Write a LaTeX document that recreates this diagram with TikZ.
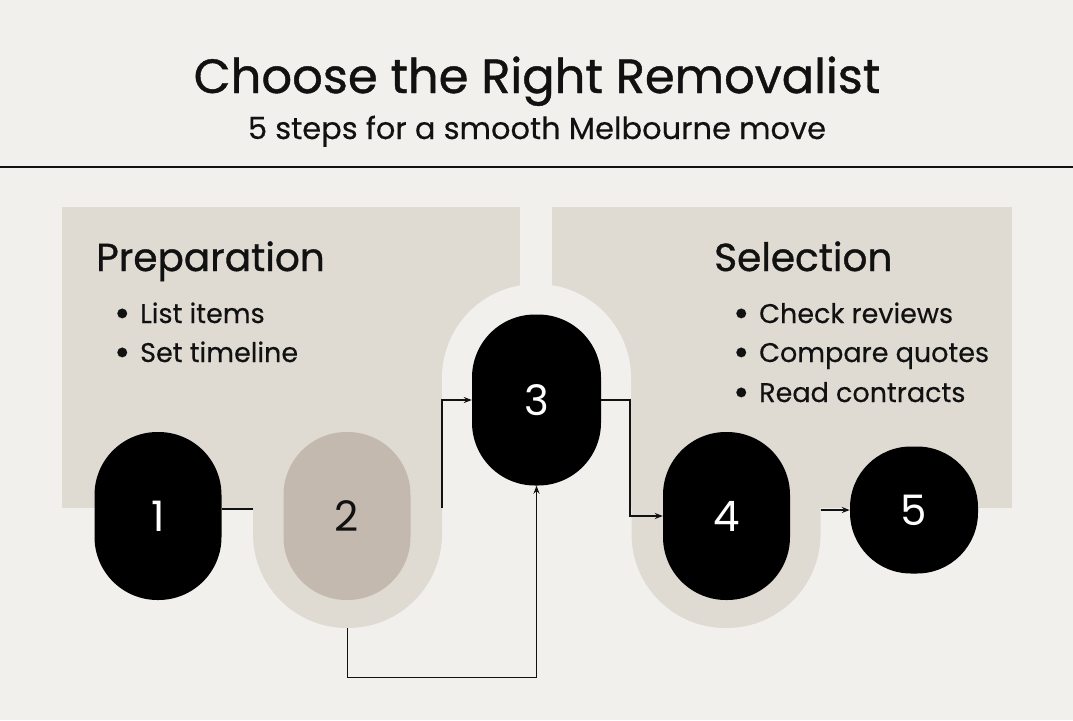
\documentclass[tikz,border=0pt]{standalone}
\usepackage{fontspec}
\setmainfont{Poppins}
\newfontfamily\titlefont[FakeBold=0.9]{Poppins}
\newfontfamily\bodyfont[FakeBold=0.35]{Poppins}
\usetikzlibrary{arrows.meta}
\definecolor{bg}{HTML}{F1F0EC}
\definecolor{panel}{HTML}{DFDBD3}
\definecolor{tanfill}{HTML}{C3B9AE}
\definecolor{ink}{HTML}{111111}
\newcommand{\bulletmark}{\makebox[26pt][l]{\raisebox{-3.5pt}{\scalebox{1.45}{•}}}}
\tikzset{
  halo/.style={inner sep=0pt, minimum width=189pt, rounded corners=94pt},
  stepnode/.style={fill=black, text=white, inner sep=0pt, minimum width=127pt, minimum height=168pt, rounded corners=63pt, font=\fontsize{42}{50}\selectfont},
  conn/.style={draw=ink, line width=1.3pt},
  arr/.style={conn, -{Stealth[length=8pt,width=6pt]}},
  bul/.style={anchor=base west, inner sep=0pt, text=ink, font=\bodyfont\fontsize{27}{32}\selectfont},
  head/.style={anchor=base west, inner sep=0pt, text=ink, font=\titlefont\fontsize{39}{46}\selectfont},
}
\begin{document}
\begin{tikzpicture}[x=1pt,y=-1pt]
\fill[bg] (0,0) rectangle (1073,720);
\useasboundingbox (0,0) rectangle (1073,720);
% title
\node[anchor=base, inner sep=0pt, text=ink, font=\titlefont\fontsize{48}{58}\selectfont] (title) at (537,93) {Choose the Right Removalist};
\node[anchor=base, inner sep=0pt, text=ink, font=\bodyfont\fontsize{30.5}{36}\selectfont] (subtitle) at (537,139) {5 steps for a smooth Melbourne move};
\draw[ink, line width=1.2pt] (0,167) -- (1073,167);
% panels
\fill[panel] (62,207) rectangle (520,508);
\fill[panel] (552,207) rectangle (1012,508);
% halo around 3
\node[halo, fill=bg, minimum height=420pt] (h3) at (536.5,494) {};
% connector 1-2 (behind halo 2)
\node[stepnode] (n1) at (158,516) {1};
\node[stepnode] (n2) at (347,516) {};
\draw[conn] (n1.east |- 0,509) -- (n2.west |- 0,509);
% halos 2 and 4
\node[halo, fill=panel, minimum height=228pt] (h2) at (347.5,514) {};
\node[halo, fill=panel, minimum height=228pt] (h4) at (726,514) {};
% nodes
\node[stepnode, fill=tanfill, text=ink] (n2) at (347,516) {2};
\node[stepnode, minimum width=129pt, minimum height=171pt] (n3) at (536.5,400) {3};
\node[stepnode] (n4) at (726.5,516) {4};
\node[stepnode, minimum width=128pt, minimum height=127pt, rounded corners=61pt] (n5) at (914,510) {5};
% connectors
\coordinate (c23) at (442,508);
\draw[arr] (c23) |- (n3.west);
\draw[arr] (h2.south) -- ++(0,49) -| (n3.south);
\draw[arr] (n3.east) -- (630,400) |- (n4.west);
\draw[arr] (h4.east |- n5.west) -- (n5.west);
% texts
\node[head] (prep) at (96,271) {Preparation};
\node[head] (sel) at (714,271) {Selection};
\node[bul] (l1) at (114,323) {\bulletmark List items};
\node[bul] (l2) at (114,362) {\bulletmark Set timeline};
\node[bul] (r1) at (733,323) {\bulletmark Check reviews};
\node[bul] (r2) at (733,362) {\bulletmark Compare quotes};
\node[bul] (r3) at (733,402) {\bulletmark Read contracts};
\end{tikzpicture}
\end{document}
